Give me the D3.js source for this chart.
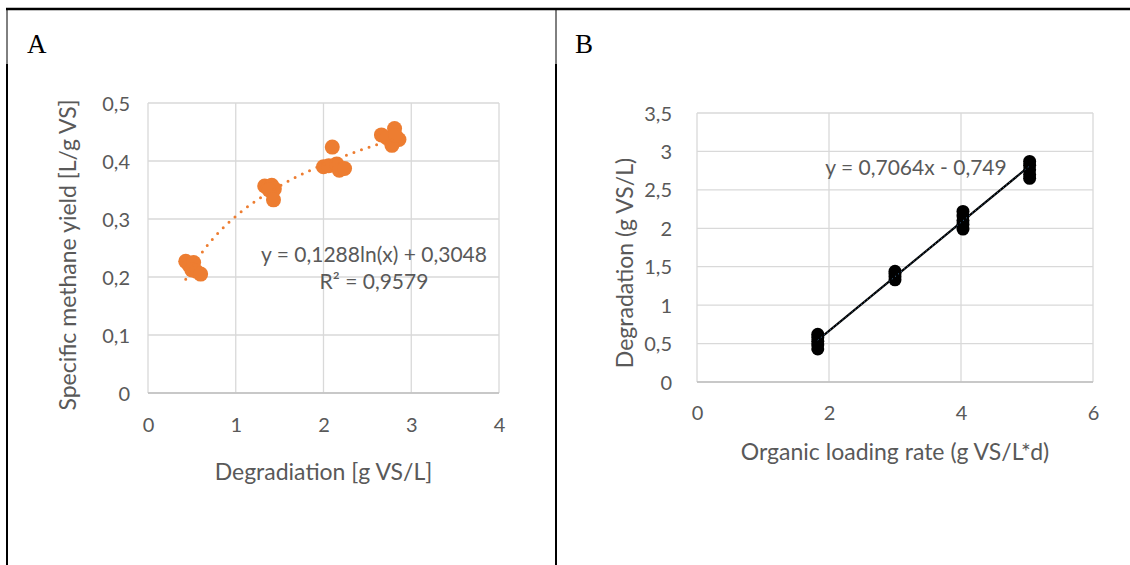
<!DOCTYPE html>
<html>
<head>
<meta charset="utf-8">
<script src="https://cdn.jsdelivr.net/npm/d3@7"></script>
<style>
  body { margin: 0; background: #fff; }
  svg { display: block; }
  .tick text { font-family: Lato, "Open Sans", sans-serif; }
</style>
</head>
<body>
<svg id="chart" width="1130" height="565"></svg>
<script>
// panel A: degradation vs specific methane yield
const degA   = [0.43, 0.47, 0.52, 0.50, 0.55, 0.60, 1.33, 1.37, 1.41, 1.44, 1.38, 1.43, 2.10, 2.00, 2.06, 2.15, 2.18, 2.24, 2.66, 2.72, 2.81, 2.86, 2.78, 2.82]
const yieldA = [0.227, 0.220, 0.225, 0.212, 0.210, 0.205, 0.357, 0.355, 0.358, 0.352, 0.350, 0.333, 0.424, 0.390, 0.392, 0.395, 0.384, 0.387, 0.445, 0.440, 0.456, 0.437, 0.427, 0.444]
const xTicksA = [0, 1, 2, 3, 4]
const yTicksA = [0, 0.1, 0.2, 0.3, 0.4, 0.5]
const fitA = {a: 0.1288, b: 0.3048}   // y = a ln(x) + b

// panel B: organic loading rate vs degradation
const olrB = [1.83, 1.83, 1.83, 1.83, 1.83, 3.0, 3.0, 3.0, 3.0, 4.03, 4.03, 4.03, 4.03, 4.03, 5.04, 5.04, 5.04, 5.04, 5.04]
const degB = [0.43, 0.48, 0.53, 0.58, 0.62, 1.33, 1.37, 1.41, 1.44, 1.99, 2.05, 2.10, 2.16, 2.22, 2.65, 2.70, 2.76, 2.82, 2.87]
const xTicksB = [0, 2, 4, 6]
const yTicksB = [0, 0.5, 1, 1.5, 2, 2.5, 3, 3.5]
const fitB = {m: 0.7064, c: -0.749}   // y = m x + c

const fmt = d => String(d).replace(".", ",")
const font = "Lato, 'Open Sans', sans-serif"
const gray = "#595959"
const grid = "#d9d9d9"

const svg = d3.select("#chart")

// frame lines
svg.append("line").attr("x1", 6).attr("x2", 1130).attr("y1", 9).attr("y2", 9)
    .attr("stroke", "#000").attr("stroke-width", 2.5)
;[7, 556].forEach(x => {
    svg.append("line").attr("x1", x).attr("x2", x).attr("y1", 10).attr("y2", 64)
        .attr("stroke", "#000").attr("stroke-width", 1)
    svg.append("line").attr("x1", x).attr("x2", x).attr("y1", 64).attr("y2", 565)
        .attr("stroke", "#000").attr("stroke-width", 2)
})

svg.append("text").attr("x", 27).attr("y", 53).text("A")
    .attr("font-family", "'Liberation Serif', serif").attr("font-size", 27)
svg.append("text").attr("x", 575).attr("y", 53).text("B")
    .attr("font-family", "'Liberation Serif', serif").attr("font-size", 27)

function panel(o) {
    const x = d3.scaleLinear().domain(o.xDomain).range([o.left, o.right])
    const y = d3.scaleLinear().domain(o.yDomain).range([o.bottom, o.top])
    const g = svg.append("g")

    // gridlines
    g.append("g").selectAll("line").data(o.yTicks).join("line")
        .attr("x1", o.left).attr("x2", o.right)
        .attr("y1", d => y(d)).attr("y2", d => y(d))
        .attr("stroke", grid).attr("stroke-width", 1.3)
    g.append("g").selectAll("line").data(o.xTicks).join("line")
        .attr("x1", d => x(d)).attr("x2", d => x(d))
        .attr("y1", o.top).attr("y2", o.bottom)
        .attr("stroke", grid).attr("stroke-width", 1.3)
    g.append("line").attr("x1", o.left).attr("x2", o.right)
        .attr("y1", o.bottom).attr("y2", o.bottom)
        .attr("stroke", "#bfbfbf").attr("stroke-width", 1.5)

    const yAxis = g.append("g")
        .attr("transform", `translate(${o.left - o.yGap},0)`)
        .call(d3.axisLeft(y).tickValues(o.yTicks).tickFormat(fmt).tickSize(0).tickPadding(0))
    yAxis.select(".domain").remove()
    yAxis.selectAll("text").attr("fill", gray).attr("font-size", 20).attr("dy", "0.35em")

    const xAxis = g.append("g")
        .attr("transform", `translate(0,${o.bottom + o.xGap})`)
        .call(d3.axisBottom(x).tickValues(o.xTicks).tickFormat(fmt).tickSize(0).tickPadding(0))
    xAxis.select(".domain").remove()
    xAxis.selectAll("text").attr("fill", gray).attr("font-size", 20).attr("dy", "0.35em")

    g.append("text")
        .attr("x", (o.left + o.right) / 2).attr("y", o.xTitleY)
        .attr("text-anchor", "middle").attr("fill", gray)
        .attr("font-family", font).attr("font-size", o.titleSize)
        .text(o.xTitle)
    g.append("text")
        .attr("transform", `translate(${o.yTitleX},${o.yTitleMid}) rotate(-90)`)
        .attr("text-anchor", "middle").attr("fill", gray)
        .attr("font-family", font).attr("font-size", o.titleSize)
        .text(o.yTitle)

    return {x, y, g}
}

// ---- A ----
const A = panel({
    xDomain: [0, 4], yDomain: [0, 0.5],
    left: 148, right: 499, top: 103, bottom: 393,
    xTicks: xTicksA, yTicks: yTicksA, yGap: 18, xGap: 32,
    titleSize: 23,
    xTitle: "Degradiation [g VS/L]", xTitleY: 480,
    yTitle: "Specific methane yield [L/g VS]", yTitleX: 76, yTitleMid: 255
})
A.g.append("g").selectAll("circle").data(degA).join("circle")
    .attr("cx", d => A.x(d)).attr("cy", (d, i) => A.y(yieldA[i]))
    .attr("r", 7.5).attr("fill", "#ed7d31")
const trendA = d3.range(d3.min(degA), d3.max(degA) + 0.001, 0.02)
A.g.append("path").datum(trendA)
    .attr("fill", "none").attr("stroke", "#ed7d31").attr("stroke-width", 3)
    .attr("stroke-linecap", "round").attr("stroke-dasharray", "0 8")
    .attr("d", d3.line().x(d => A.x(d)).y(d => A.y(fitA.a * Math.log(d) + fitA.b)))
A.g.append("text").attr("x", 374).attr("y", 262)
    .attr("text-anchor", "middle").attr("fill", gray)
    .attr("font-family", font).attr("font-size", 21)
    .text("y = 0,1288ln(x) + 0,3048")
A.g.append("text").attr("x", 374).attr("y", 289)
    .attr("text-anchor", "middle").attr("fill", gray)
    .attr("font-family", font).attr("font-size", 21)
    .text("R² = 0,9579")

// ---- B ----
const B = panel({
    xDomain: [0, 6], yDomain: [0, 3.5],
    left: 697, right: 1093, top: 113, bottom: 382,
    xTicks: xTicksB, yTicks: yTicksB, yGap: 25, xGap: 31,
    titleSize: 23,
    xTitle: "Organic loading rate (g VS/L*d)", xTitleY: 460,
    yTitle: "Degradation (g VS/L)", yTitleX: 633, yTitleMid: 263
})
B.g.append("g").selectAll("circle").data(olrB).join("circle")
    .attr("cx", d => B.x(d)).attr("cy", (d, i) => B.y(degB[i]))
    .attr("r", 6.5).attr("fill", "#000")
const endsB = d3.extent(olrB)
B.g.append("line")
    .attr("x1", B.x(endsB[0])).attr("y1", B.y(fitB.m * endsB[0] + fitB.c))
    .attr("x2", B.x(endsB[1])).attr("y2", B.y(fitB.m * endsB[1] + fitB.c))
    .attr("stroke", "#000").attr("stroke-width", 2.2)
B.g.append("line")
    .attr("x1", B.x(endsB[0])).attr("y1", B.y(fitB.m * endsB[0] + fitB.c))
    .attr("x2", B.x(endsB[1])).attr("y2", B.y(fitB.m * endsB[1] + fitB.c))
    .attr("stroke", "#5b9bd5").attr("stroke-width", 0.8).attr("stroke-dasharray", "1 3")
B.g.append("text").attr("x", 916).attr("y", 175)
    .attr("text-anchor", "middle").attr("fill", gray)
    .attr("font-family", font).attr("font-size", 21)
    .text("y = 0,7064x - 0,749")
</script>
</body>
</html>
